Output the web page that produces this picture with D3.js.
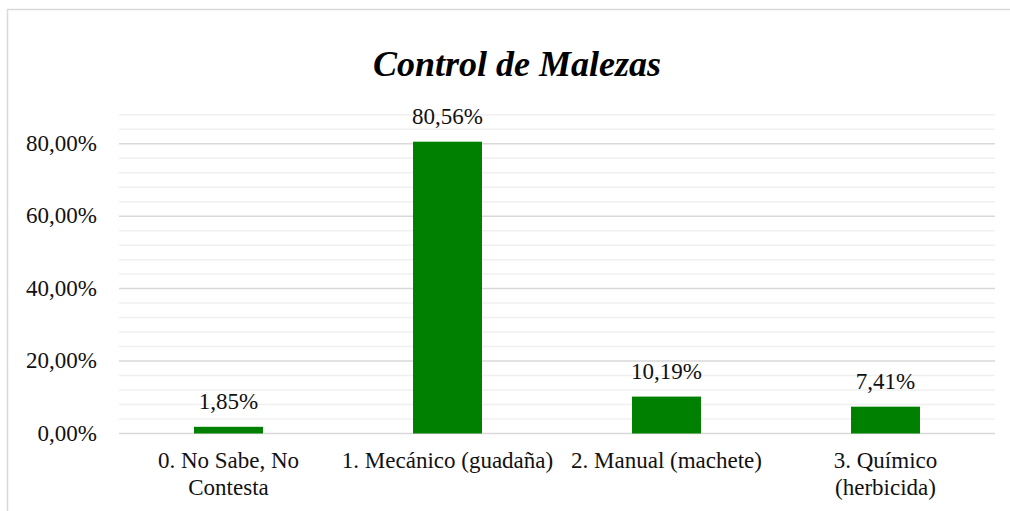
<!DOCTYPE html>
<html>
<head>
<meta charset="utf-8">
<script src="https://cdn.jsdelivr.net/npm/d3@7"></script>
<style>
  body { margin: 0; background: #fff; }
</style>
</head>
<body>
<div id="Chart"></div>
<script>
// data
var categories = ["0. No Sabe, No Contesta", "1. Mecánico (guadaña)", "2. Manual (machete)", "3. Químico (herbicida)"];
var categoryLines = [["0. No Sabe, No", "Contesta"], ["1. Mecánico (guadaña)"], ["2. Manual (machete)"], ["3. Químico", "(herbicida)"]];
var values = [0.0185, 0.8056, 0.1019, 0.0741];
var majorTicks = [0, 0.2, 0.4, 0.6, 0.8];
var minorTicks = [0.04, 0.08, 0.12, 0.16, 0.24, 0.28, 0.32, 0.36, 0.44, 0.48, 0.52, 0.56, 0.64, 0.68, 0.72, 0.76, 0.84, 0.88];
var title = "Control de Malezas";

var width = 1010, height = 511;
var margin = {top: 107.5, right: 15, bottom: 77.5, left: 119};
var serif = "'Liberation Serif', 'DejaVu Serif', serif";

var svg = d3.select("#Chart")
            .append("svg")
            .attr("class", "chart")
            .attr("width", width)
            .attr("height", height);

// chart frame
svg.append("rect")
   .attr("x", 7.5).attr("y", 9.5)
   .attr("width", width + 20).attr("height", height + 20)
   .attr("fill", "none")
   .attr("stroke", "#d9d9d9")
   .attr("stroke-width", 1.5);

var x = d3.scaleBand()
          .domain(categories)
          .range([margin.left, width - margin.right])
          .paddingInner(0.685)
          .paddingOuter(0.3425);

var y = d3.scaleLinear()
          .domain([0, 0.9])
          .range([height - margin.bottom, margin.top]);

var fmt = function(v){ return d3.format(".2f")(v * 100).replace(".", ",") + "%"; };

var g = svg.append("g");

g.selectAll(".minor")
 .data(minorTicks)
 .enter().append("line")
 .attr("class", "minor")
 .attr("x1", margin.left).attr("x2", width - margin.right)
 .attr("y1", d => y(d)).attr("y2", d => y(d))
 .attr("stroke", "#f0f0f0")
 .attr("stroke-width", 1.5);

g.selectAll(".major")
 .data(majorTicks)
 .enter().append("line")
 .attr("class", "major")
 .attr("x1", margin.left).attr("x2", width - margin.right)
 .attr("y1", d => y(d)).attr("y2", d => y(d))
 .attr("stroke", "#d9d9d9")
 .attr("stroke-width", 1.5);

g.selectAll(".ylab")
 .data(majorTicks)
 .enter().append("text")
 .attr("class", "ylab")
 .attr("x", 97)
 .attr("y", d => y(d))
 .attr("dy", 7)
 .attr("text-anchor", "end")
 .style("font-family", serif)
 .style("font-size", "23px")
 .style("fill", "#111")
 .text(d => fmt(d));

g.selectAll(".bar")
 .data(values)
 .enter().append("rect")
 .attr("class", "bar")
 .attr("x", (d, i) => x(categories[i]))
 .attr("width", x.bandwidth())
 .attr("y", d => y(d))
 .attr("height", d => y(0) - y(d))
 .attr("fill", "#008000");

g.selectAll(".val")
 .data(values)
 .enter().append("text")
 .attr("class", "val")
 .attr("x", (d, i) => x(categories[i]) + x.bandwidth() / 2)
 .attr("y", d => y(d) - 18)
 .attr("text-anchor", "middle")
 .style("font-family", serif)
 .style("font-size", "23px")
 .style("fill", "#111")
 .text(d => fmt(d));

// category labels
var xl = g.selectAll(".xlab")
 .data(categories)
 .enter().append("text")
 .attr("class", "xlab")
 .attr("x", d => x(d) + x.bandwidth() / 2)
 .attr("y", 468)
 .attr("text-anchor", "middle")
 .style("font-family", serif)
 .style("font-size", "23px")
 .style("fill", "#111");

xl.each(function(d, i){
    var t = d3.select(this);
    categoryLines[i].forEach(function(line, j){
        t.append("tspan")
         .attr("x", t.attr("x"))
         .attr("dy", j === 0 ? 0 : 27)
         .text(line);
    });
});

svg.append("text")
   .attr("x", 517)
   .attr("y", 76)
   .attr("text-anchor", "middle")
   .style("font-family", serif)
   .style("font-size", "36px")
   .style("font-weight", "bold")
   .style("font-style", "italic")
   .text(title);
</script>
</body>
</html>
